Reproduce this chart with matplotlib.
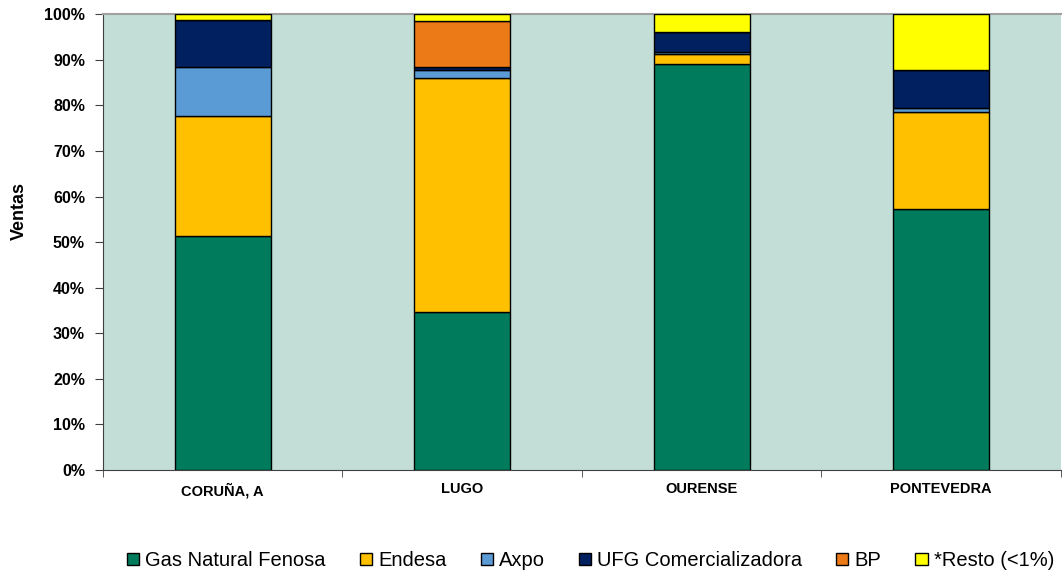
import numpy as np
import matplotlib
matplotlib.use("Agg")
import matplotlib.pyplot as plt
from matplotlib.ticker import PercentFormatter

plt.rcParams['font.family'] = ['Liberation Sans', 'DejaVu Sans']

provincias = ['CORUÑA, A', 'LUGO', 'OURENSE', 'PONTEVEDRA']
series = ['Gas Natural Fenosa', 'Endesa', 'Axpo', 'UFG Comercializadora', 'BP', '*Resto (<1%)']
gas_natural = [51.3, 34.6, 89.0, 57.2]
endesa = [26.3, 51.4, 2.2, 21.3]
axpo = [10.8, 1.7, 0.5, 0.9]
ufg = [10.3, 0.7, 4.4, 8.4]
bp = [0.0, 10.1, 0.0, 0.0]
resto = [1.3, 1.5, 3.9, 12.2]
colores = ['#007B5B', '#FFC000', '#5B9BD5', '#002060', '#EC7A17', '#FFFF00']

valores = [gas_natural, endesa, axpo, ufg, bp, resto]

fig = plt.figure(figsize=(10.62, 5.71), dpi=100)
ax = fig.add_axes([0.097, 0.177, 0.902, 0.798])
ax.set_facecolor('#C3DED7')

x = np.arange(len(provincias))
bottom = np.zeros(len(provincias))
for vals, nombre, col in zip(valores, series, colores):
    v = np.array(vals)
    ax.bar(x, v, 0.4, bottom=bottom, color=col, edgecolor='black', linewidth=1.0,
           label=nombre, zorder=3)
    bottom += v

ax.set_xlim(-0.5, 3.5)
ax.set_ylim(0, 100)
ax.set_yticks(np.arange(0, 101, 10))
ax.yaxis.set_major_formatter(PercentFormatter(decimals=0))
ax.set_xticks(x)
ax.set_xticklabels(provincias, fontsize=10.5, fontweight='bold')
ax.set_xticks(np.arange(-0.5, 4, 1), minor=True)
ax.tick_params(axis='x', which='major', length=0, pad=9)
ax.tick_params(axis='x', which='minor', length=5, color='#404040')
ax.tick_params(axis='y', length=6, pad=7, color='#404040', labelsize=11.5)
for t in ax.get_yticklabels():
    t.set_fontweight('bold')
ax.set_ylabel('Ventas', fontsize=13, fontweight='bold')
ax.yaxis.set_label_coords(-0.078, 0.568)

ax.spines['right'].set_visible(False)
ax.spines['top'].set_color('#A0A0A0')
ax.spines['top'].set_linewidth(1.5)
ax.spines['left'].set_color('#404040')
ax.spines['bottom'].set_color('#404040')

fig.legend(loc='lower center', bbox_to_anchor=(0.556, -0.03), ncol=6, frameon=False,
           fontsize=14.5, handlelength=0.6, handleheight=0.6, handletextpad=0.3,
           columnspacing=1.7)

fig.savefig('out.png', dpi=100)
